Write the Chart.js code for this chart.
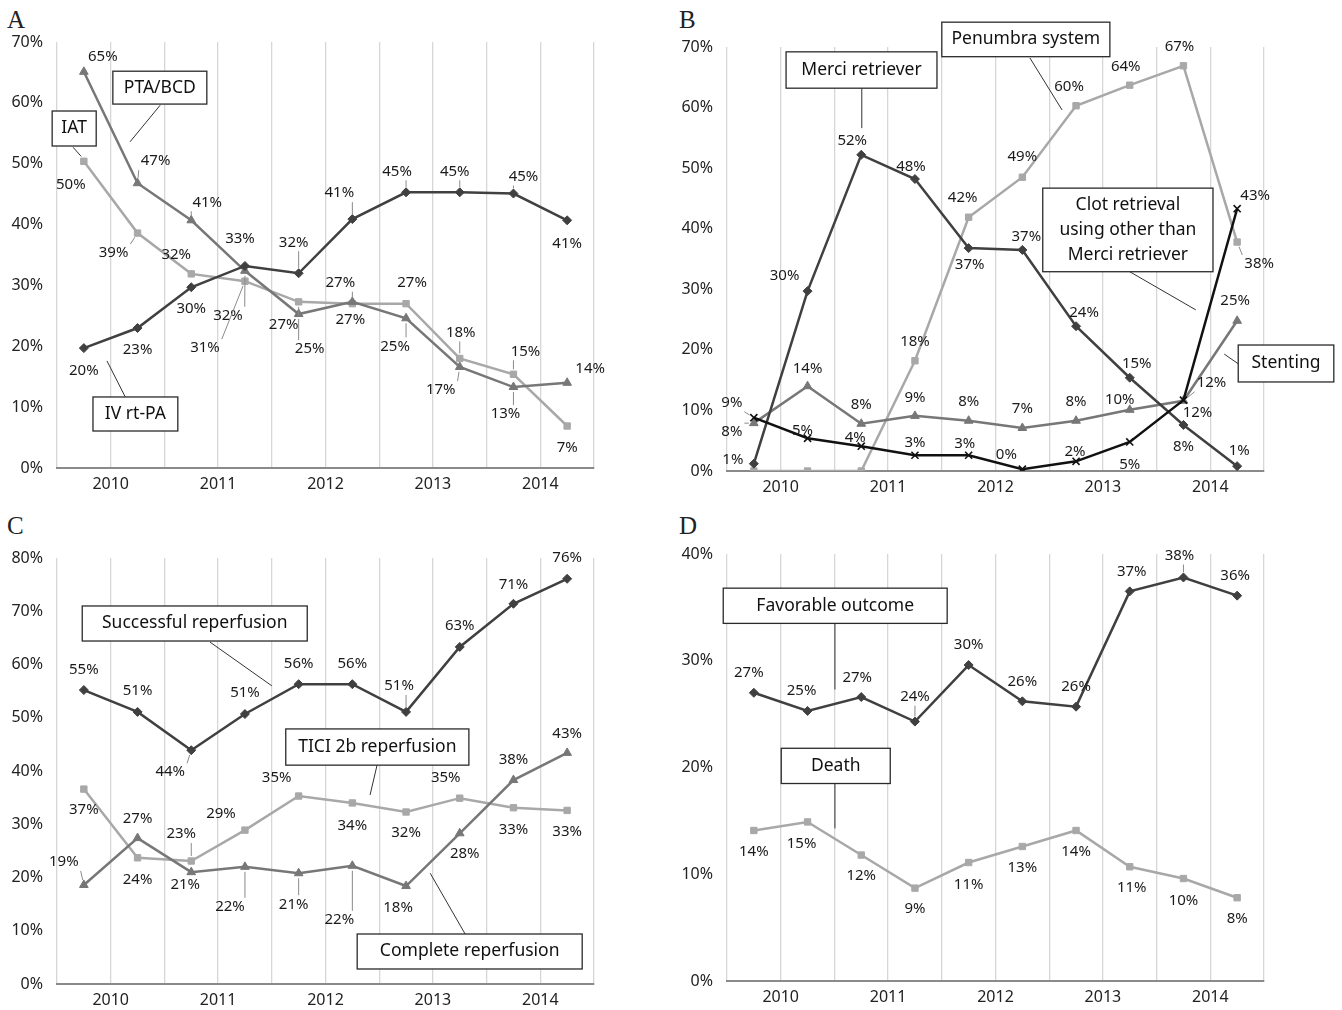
<!DOCTYPE html>
<html><head><meta charset="utf-8">
<script src="https://cdn.jsdelivr.net/npm/chart.js@4"></script>
<style>
body{margin:0;background:#fff;width:1342px;height:1010px;position:relative;overflow:hidden}
canvas{position:absolute}
.t{position:absolute;font-family:'Liberation Serif','DejaVu Serif',serif;font-size:25px;color:#222;line-height:1}
</style></head><body>
<div class="t" style="left:7px;top:7px">A</div>
<div class="t" style="left:679px;top:7px">B</div>
<div class="t" style="left:7px;top:513px">C</div>
<div class="t" style="left:679px;top:513px">D</div>
<canvas id="cA" width="620" height="500" style="left:0;top:0"></canvas>
<canvas id="cB" width="672" height="500" style="left:670px;top:0"></canvas>
<canvas id="cC" width="620" height="510" style="left:0;top:500px"></canvas>
<canvas id="cD" width="672" height="510" style="left:670px;top:500px"></canvas>
<script>
// ---------- DATA ----------
const years = ['2010', '2011', '2012', '2013', '2014'];
const halfYears = ['2010 H1','2010 H2','2011 H1','2011 H2','2012 H1','2012 H2','2013 H1','2013 H2','2014 H1','2014 H2'];
// Panel A
const ivRtPA  = [19.7, 23.0, 29.7, 33.2, 32.0, 40.9, 45.3, 45.3, 45.1, 40.7];
const ptaBcd  = [65.1, 46.8, 40.7, 32.4, 25.3, 27.3, 24.6, 16.6, 13.3, 14.0];
const iat     = [50.4, 38.6, 31.9, 30.7, 27.3, 27.0, 27.0, 18.0, 15.4, 6.9];
// Panel B
const merci     = [1.2, 29.7, 52.2, 48.2, 36.8, 36.5, 23.9, 15.4, 7.6, 0.8];
const penumbra  = [0, 0, 0, 18.2, 41.9, 48.5, 60.3, 63.7, 66.9, 37.8];
const clotOther = [8.8, 5.4, 4.1, 2.6, 2.6, 0.3, 1.6, 4.8, 11.7, 43.3];
const stenting  = [7.9, 14.0, 7.8, 9.1, 8.3, 7.1, 8.3, 10.1, 11.6, 24.8];
// Panel C
const successful = [55.2, 51.1, 43.9, 50.7, 56.3, 56.3, 51.1, 63.3, 71.4, 76.1];
const tici2b     = [36.6, 23.7, 23.1, 28.9, 35.3, 34.0, 32.3, 34.9, 33.1, 32.6];
const complete   = [18.6, 27.4, 21.0, 22.0, 20.8, 22.2, 18.4, 28.3, 38.3, 43.4];
// Panel D
const favorable = [27.0, 25.3, 26.6, 24.3, 29.6, 26.2, 25.7, 36.5, 37.8, 36.1];
const death     = [14.1, 14.9, 11.8, 8.7, 11.1, 12.6, 14.1, 10.7, 9.6, 7.8];

// ---------- STYLE ----------
const GRID = '#d6d6d6', AXIS = '#8a8a8a';
const DARK = '#404040', MID = '#777777', LIGHT = '#a8a8a8', BLACK = '#111111';
const FONT = "'Noto Sans', 'Open Sans', sans-serif";

function series(label, values, color, style, radius) {
  return {
    label,
    data: values.map((v, i) => ({x: i + 0.5, y: v})),
    borderColor: color, backgroundColor: color,
    pointBorderColor: color, pointBackgroundColor: color,
    borderWidth: 2.5, pointStyle: style, pointRadius: radius,
    pointBorderWidth: style === 'crossRot' ? 1.6 : 1, tension: 0
  };
}

const labelPlugin = {
  id: 'ptLabels',
  afterDatasetsDraw(chart, args, opts) {
    const ctx = chart.ctx; ctx.save();
    ctx.font = '15px ' + FONT; ctx.textAlign = 'center'; ctx.textBaseline = 'middle';
    chart.data.datasets.forEach((ds, di) => {
      const meta = chart.getDatasetMeta(di); const offs = opts.offsets[di] || [];
      meta.data.forEach((pt, i) => {
        const o = offs[i]; if (!o) return;
        const tx = pt.x + o[0], ty = pt.y + o[1];
        const txt = Math.round(ds.data[i].y) + '%';
        ctx.fillStyle = '#1a1a1a';
        ctx.fillText(txt, tx, ty);
        if (o[2]) {
          const w = ctx.measureText(txt).width;
          const cx = Math.min(Math.max(pt.x, tx - w / 2 - 2), tx + w / 2 + 2);
          const cy = Math.min(Math.max(pt.y, ty - 9), ty + 9);
          const dx = pt.x - cx, dy = pt.y - cy, d = Math.hypot(dx, dy);
          if (d > 7) {
            ctx.strokeStyle = '#8a8a8a'; ctx.lineWidth = 1;
            ctx.beginPath(); ctx.moveTo(cx, cy);
            ctx.lineTo(pt.x - dx / d * 5, pt.y - dy / d * 5); ctx.stroke();
          }
        }
      });
    });
    ctx.restore();
  }
};

const calloutPlugin = {
  id: 'callouts',
  afterDraw(chart, args, opts) {
    const {ctx} = chart; const sx = chart.scales.x, sy = chart.scales.y;
    ctx.save();
    for (const c of opts.items) {
      const X = v => sx.getPixelForValue(v), Y = v => sy.getPixelForValue(v);
      ctx.strokeStyle = '#333'; ctx.lineWidth = 1;
      ctx.beginPath(); ctx.moveTo(X(c.leader[0][0]), Y(c.leader[0][1]));
      ctx.lineTo(X(c.leader[1][0]), Y(c.leader[1][1])); ctx.stroke();
      const x1 = X(c.box[0]), y1 = Y(c.box[1]), x2 = X(c.box[2]), y2 = Y(c.box[3]);
      ctx.fillStyle = '#fff'; ctx.fillRect(x1, y1, x2 - x1, y2 - y1);
      ctx.strokeStyle = '#2a2a2a'; ctx.lineWidth = 1.3; ctx.strokeRect(x1, y1, x2 - x1, y2 - y1);
      ctx.fillStyle = '#111'; ctx.font = '17.5px ' + FONT; ctx.textAlign = 'center'; ctx.textBaseline = 'middle';
      const n = c.lines.length, lh = 25, cy = (y1 + y2) / 2, cx = (x1 + x2) / 2;
      c.lines.forEach((t, k) => ctx.fillText(t, cx, cy + (k - (n - 1) / 2) * lh));
    }
    ctx.restore();
  }
};

function makeChart(id, cfg) {
  return new Chart(document.getElementById(id), {
    type: 'line',
    data: {datasets: cfg.datasets},
    options: {
      responsive: false, animation: false, devicePixelRatio: 1,
      layout: {padding: {top: cfg.top, right: cfg.right, left: 0, bottom: 0}},
      plugins: {legend: {display: false}, tooltip: {enabled: false},
        ptLabels: {offsets: cfg.offsets}, callouts: {items: cfg.callouts}},
      scales: {
        x: {type: 'linear', min: 0, max: 10,
          ticks: {stepSize: 1, autoSkip: false, maxRotation: 0, padding: 7, color: '#222',
            font: {family: FONT, size: 16},
            callback: v => (v % 2 === 1) ? years[(v - 1) / 2] : ''},
          grid: {color: GRID, lineWidth: 1.3, drawTicks: false},
          border: {color: AXIS, width: 2},
          afterFit: s => { s.height = cfg.xh; }},
        y: {min: 0, max: cfg.ymax,
          ticks: {stepSize: 10, padding: 14, color: '#222', font: {family: FONT, size: 16},
            callback: v => v + '%'},
          grid: {display: false, drawTicks: false}, border: {display: false},
          afterFit: s => { s.width = 57; }}
      }
    },
    plugins: [labelPlugin, calloutPlugin]
  });
}

// Panel A
makeChart('cA', {
  top: 42, right: 26, xh: 32, ymax: 70,
  datasets: [
    series('IV rt-PA', ivRtPA, DARK, 'rectRot', 4.5),
    series('PTA/BCD', ptaBcd, MID, 'triangle', 5),
    series('IAT', iat, LIGHT, 'rect', 4.5)
  ],
  offsets: [
    [[0,23],[0,22],[0,21],[-5,-27],[-5,-31,1],[-13,-26,1],[-9,-21,1],[-5,-21,1],[10,-17,1],[0,23]],
    [[19,-15],[18,-22,1],[16,-18,1],[-17,45,1],[11,35,1],[-2,18],[-11,28,1],[-19,23,1],[-8,27,1],[23,-14]],
    [[-13,23],[-24,20,1],[-15,-19],[-40,67,1],[-15,23,1],[-12,-21,1],[6,-21],[1,-26,1],[12,-23,1],[0,22]]
  ],
  callouts: [
    {lines: ['IAT'], box: [-0.09, 58.66, 0.73, 52.91], leader: [[0.30, 52.7], [0.45, 51.2]]},
    {lines: ['PTA/BCD'], box: [1.04, 65.2, 2.79, 59.8], leader: [[1.92, 59.6], [1.36, 53.6]]},
    {lines: ['IV rt-PA'], box: [0.67, 11.67, 2.25, 6.08], leader: [[0.93, 17.6], [1.27, 11.7]]}
  ]
});

// Panel B
makeChart('cB', {
  top: 47, right: 78, xh: 29, ymax: 70,
  datasets: [
    series('Clot retrieval using other than Merci retriever', clotOther, BLACK, 'crossRot', 5),
    series('Merci retriever', merci, DARK, 'rectRot', 4.5),
    series('Stenting', stenting, MID, 'triangle', 5),
    series('Penumbra system', penumbra, LIGHT, 'rect', 4.5)
  ],
  offsets: [
    [[-22,-15,1],[-5,-8],[-6,-8],[0,-13],[-4,-12],[-16,-14],[-1,-10],[0,23],[14,13],[18,-13]],
    [[-21,-4],[-23,-15],[-9,-14],[-4,-12],[1,17],[4,-13],[8,-13],[7,-14],[0,22],[2,-15]],
    [[-22,9,1],[0,-17],[0,-19],[0,-18],[0,-19],[0,-19],[0,-19],[-10,-10],[28,-18,1],[-2,-20]],
    [null,null,null,[0,-19],[-6,-19],[0,-20],[-7,-19],[-4,-18],[-4,-19],[22,22,1]]
  ],
  callouts: [
    {lines: ['Merci retriever'], box: [1.10, 69.2, 3.91, 63.2], leader: [[2.51, 63.2], [2.51, 56.6]]},
    {lines: ['Penumbra system'], box: [4.00, 74.1, 7.13, 68.4], leader: [[5.64, 68.2], [6.24, 59.6]]},
    {lines: ['Clot retrieval', 'using other than', 'Merci retriever'], box: [5.88, 46.7, 9.05, 32.9], leader: [[7.50, 32.9], [8.73, 26.6]]},
    {lines: ['Stenting'], box: [9.52, 20.8, 11.30, 14.7], leader: [[9.26, 19.3], [9.52, 17.7]]}
  ]
});

// Panel C
makeChart('cC', {
  top: 58, right: 26, xh: 26, ymax: 80,
  datasets: [
    series('Successful reperfusion', successful, DARK, 'rectRot', 4.5),
    series('Complete reperfusion', complete, MID, 'triangle', 5),
    series('TICI 2b reperfusion', tici2b, LIGHT, 'rect', 4.5)
  ],
  offsets: [
    [[0,-20],[0,-21],[-21,22,1],[0,-21],[0,-20],[0,-20],[-7,-26,1],[0,-21],[0,-19],[0,-21]],
    [[-20,-23,1],[0,-19],[-6,13],[-15,40,1],[-5,31,1],[-13,54,1],[-8,22],[5,20],[0,-20],[0,-19]],
    [[0,21],[0,22],[-10,-27,1],[-24,-16],[-22,-18],[0,23],[0,21],[-14,-20],[0,22],[0,21]]
  ],
  callouts: [
    {lines: ['Successful reperfusion'], box: [0.47, 70.99, 4.66, 64.41], leader: [[2.85, 64.2], [4.00, 56.0]]},
    {lines: ['TICI 2b reperfusion'], box: [4.26, 47.9, 7.67, 41.1], leader: [[5.96, 41.1], [5.83, 35.5]]},
    {lines: ['Complete reperfusion'], box: [5.59, 9.39, 9.78, 2.82], leader: [[7.60, 9.4], [6.95, 20.8]]}
  ]
});

// Panel D
makeChart('cD', {
  top: 54, right: 78, xh: 29, ymax: 40,
  datasets: [
    series('Favorable outcome', favorable, DARK, 'rectRot', 4.5),
    series('Death', death, LIGHT, 'rect', 4.5)
  ],
  offsets: [
    [[-5,-20],[-6,-20],[-4,-19],[0,-25,1],[0,-20],[0,-20],[0,-20],[2,-20],[-4,-22,1],[-2,-20]],
    [[0,21],[-6,22],[0,21],[0,21],[0,22],[0,21],[0,21],[2,21],[0,22],[0,21]]
  ],
  callouts: [
    {lines: ['Favorable outcome'], box: [-0.07, 36.8, 4.10, 33.5], leader: [[2.01, 33.5], [2.01, 27.3]]},
    {lines: ['Death'], box: [1.01, 21.8, 3.04, 18.5], leader: [[2.01, 18.5], [2.01, 14.3]]}
  ]
});
</script>
</body></html>
